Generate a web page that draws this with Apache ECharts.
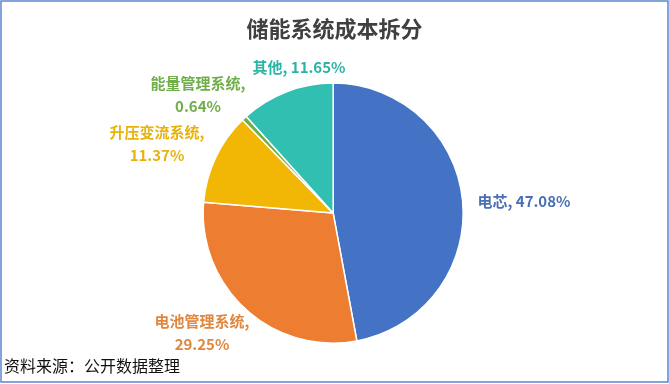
<!DOCTYPE html>
<html>
<head>
<meta charset="utf-8">
<script src="https://cdn.jsdelivr.net/npm/echarts@6/dist/echarts.min.js"></script>
<style>
html,body{margin:0;padding:0;background:#fff;}
#c{width:669px;height:384px;}
</style>
</head>
<body>
<div id="c"></div>
<script>
var titleText = '储能系统成本拆分';
var sourceText = '资料来源：公开数据整理';
var categories = ['电芯', '电池管理系统', '升压变流系统', '能量管理系统', '其他'];
var values = [47.08, 29.25, 11.37, 0.64, 11.65];
var colors = ['#4472C4', '#ED7D31', '#F2B705', '#70AD47', '#30BFB1'];
var labelColors = ['#4A6FB5', '#E0873E', '#E8B20C', '#6FAE48', '#2DB3A6'];

var labelPos = [
  [524, 201], [202, 333], [157, 144], [198, 95], [299, 67]
];

var chart = echarts.init(document.getElementById('c'), null, {renderer: 'canvas'});
var data = categories.map(function (n, i) {
  return {
    name: n, value: values[i],
    itemStyle: {color: colors[i]},
    label: {color: labelColors[i]}
  };
});
chart.setOption({
  animation: false,
  backgroundColor: '#fff',
  title: {
    text: titleText, left: 'center', top: 13,
    textStyle: {fontFamily: 'Noto Sans CJK SC', fontSize: 22, fontWeight: 'bold', color: '#404040'}
  },
  graphic: [
    {type: 'rect', shape: {x: 1, y: 1, width: 667, height: 381},
     style: {fill: 'none', stroke: '#5B86CF', lineWidth: 1.5}, silent: true},
    {type: 'text', left: 4, top: 358,
     style: {text: sourceText, font: '16px "Noto Sans CJK SC"', fill: '#111'}}
  ],
  series: [{
    type: 'pie',
    center: ['49.8%', '55.5%'],
    radius: 130,
    startAngle: 90,
    clockwise: true,
    itemStyle: {borderColor: '#fff', borderWidth: 1.5},
    label: {
      show: true,
      fontFamily: 'Noto Sans CJK SC',
      fontSize: 15,
      fontWeight: 'bold',
      lineHeight: 23,
      align: 'center',
      formatter: function (p) {
        var v = p.value.toFixed(2) + '%';
        return p.name.length > 2 ? p.name + ',\n' + v : p.name + ', ' + v;
      }
    },
    labelLine: {show: false},
    labelLayout: function (p) {
      var pos = labelPos[p.dataIndex];
      return {x: pos[0], y: pos[1], align: 'center', verticalAlign: 'middle'};
    },
    data: data
  }]
});
</script>
</body>
</html>
